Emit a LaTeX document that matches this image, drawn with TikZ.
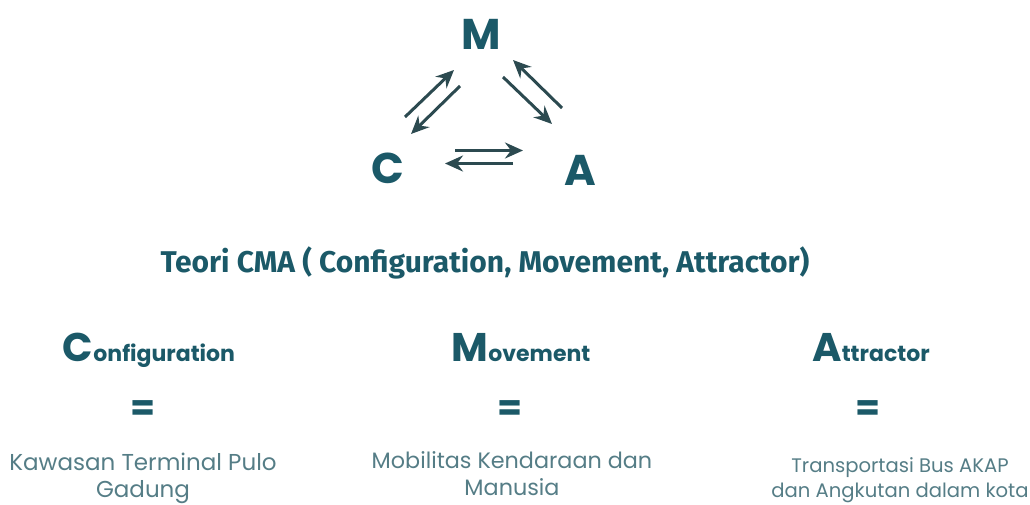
\documentclass[tikz,border=0pt]{standalone}
\usepackage{fontspec}
\setmainfont{Poppins}
\newfontfamily\titlefont{Fira Sans}
\usetikzlibrary{arrows.meta}
\definecolor{teal}{HTML}{1B5968}
\definecolor{arrowc}{HTML}{2C4A50}
\definecolor{labelc}{HTML}{557D86}
\tikzset{
  letter/.style={font=\fontsize{43}{43}\selectfont\bfseries, text=teal, inner sep=0pt},
  arr/.style={draw=arrowc, line width=3pt, -{Stealth[length=18pt,width=16pt,inset=6pt]}},
  title/.style={font=\titlefont\fontsize{30}{30}\selectfont\bfseries, text=teal, inner sep=0pt},
  head/.style={text=teal, inner sep=0pt, anchor=base},
  eq/.style={font=\fontsize{36}{36}\selectfont\bfseries, text=teal, inner sep=0pt},
  lab/.style={text=labelc, align=center, inner sep=0pt, anchor=base}
}
\begin{document}
\begin{tikzpicture}[x=1pt,y=-1pt]
\useasboundingbox (0,0) rectangle (1030,505);
\node[letter] (M) at (481,34) {M};
\node[letter] (C) at (388,168) {C};
\node[letter] (A) at (580,170) {A};
% connector end points
\coordinate (cm1) at (405,117); \coordinate (cm2) at (454,70);
\coordinate (mc1) at (460,86);  \coordinate (mc2) at (411,134);
\coordinate (ma1) at (503,77);  \coordinate (ma2) at (552,124);
\coordinate (am1) at (562,108); \coordinate (am2) at (513,60);
\coordinate (ca1) at (455,150.5); \coordinate (ca2) at (523,150.5);
\coordinate (ac1) at (513,163.5); \coordinate (ac2) at (445,163.5);
\draw[arr] (cm1) -- (cm2);
\draw[arr] (mc1) -- (mc2);
\draw[arr] (ma1) -- (ma2);
\draw[arr] (am1) -- (am2);
\draw[arr] (ca1) -- (ca2);
\draw[arr] (ac1) -- (ac2);
\node[title] (T) at (485,263) {Teori CMA ( Configuration, Movement, Attractor)};
\node[head] (hc) at (149,361) {{\fontsize{40}{40}\selectfont\bfseries C}{\fontsize{22}{22}\selectfont\bfseries onfiguration}};
\node[head] (hm) at (521,361) {{\fontsize{40}{40}\selectfont\bfseries M}{\fontsize{22}{22}\selectfont\bfseries ovement}};
\node[head] (ha) at (871,361) {{\fontsize{40}{40}\selectfont\bfseries A}{\fontsize{22}{22}\selectfont\bfseries ttractor}};
\node[eq] (ec) at (143,411) {=};
\node[eq] (em) at (510,411) {=};
\node[eq] (ea) at (868,411) {=};
\node[lab, font=\fontsize{23}{27}\selectfont] (lc) at (143,497) {Kawasan Terminal Pulo\\Gadung};
\node[lab, font=\fontsize{22.3}{27}\selectfont] (lm) at (512,495) {Mobilitas Kendaraan dan\\Manusia};
\node[lab, font=\fontsize{19.6}{25}\selectfont] (la) at (900,497) {Transportasi Bus AKAP\\dan Angkutan dalam kota};
\end{tikzpicture}
\end{document}
